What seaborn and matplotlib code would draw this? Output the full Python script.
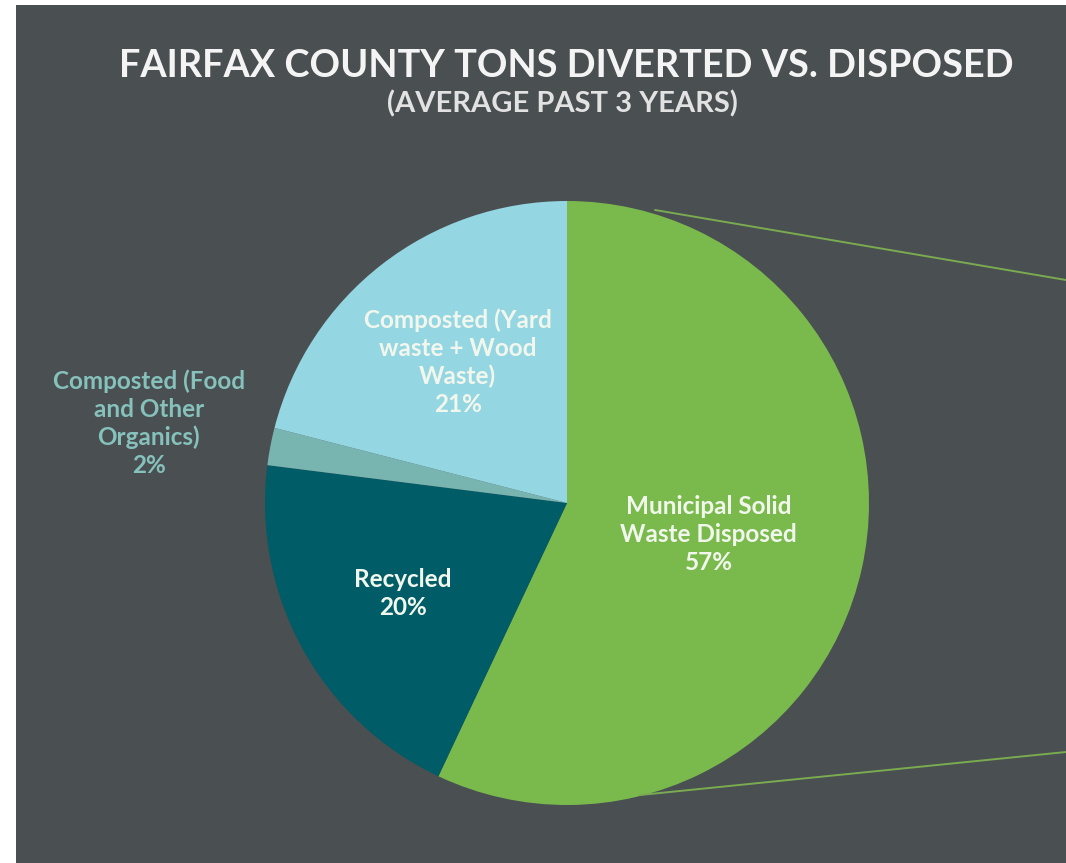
import numpy as np
import matplotlib
matplotlib.use("Agg")
import matplotlib.pyplot as plt
import seaborn as sns
from matplotlib.patches import Rectangle
from matplotlib.lines import Line2D

# data
categories = ["Municipal Solid\nWaste Disposed", "Recycled",
              "Composted (Food\nand Other\nOrganics)", "Composted (Yard\nwaste + Wood\nWaste)"]
shares = [57, 20, 2, 21]
slice_colors = ["#7aba4c", "#005c66", "#78b4b0", "#94d6e2"]
label_colors = ["#f2f7ee", "#f2f7ee", "#86c1bc", "#f2f7ee"]
label_radius = [0.48, 0.62, 1.41, 0.59]

BG = "#4a4f52"

sns.set_theme(style="dark")
plt.rcParams['font.family'] = ['Lato', 'DejaVu Sans']

W, H = 1066, 863
fig = plt.figure(figsize=(W / 100, H / 100), dpi=100, facecolor="white")
# dark slide panel (small white margin at left/top like the source)
fig.add_artist(Rectangle((16 / W, 0), 1 - 16 / W, 1 - 5 / H, transform=fig.transFigure,
                         facecolor=BG, edgecolor="none", zorder=0))

cx, cy, r = 567, 503, 302
ax = fig.add_axes([(cx - r) / W, (H - cy - r) / H, 2 * r / W, 2 * r / H])
ax.set_facecolor("none")

wedges, _ = ax.pie(shares, colors=slice_colors, startangle=90, counterclock=False,
                   radius=1, wedgeprops={"linewidth": 0})
ax.set_xlim(-1, 1); ax.set_ylim(-1, 1); ax.set_aspect("equal"); ax.axis("off")

for w, cat, val, col, rd in zip(wedges, categories, shares, label_colors, label_radius):
    ang = np.deg2rad((w.theta1 + w.theta2) / 2)
    ax.text(rd * np.cos(ang), rd * np.sin(ang), f"{cat}\n{val}%", ha="center", va="center",
            color=col, fontsize=17.5, fontweight="bold", linespacing=1.25, clip_on=False)

# connector lines toward the (cropped) breakdown on the right
for (x0, y0), (x1, y1) in [((655, 210), (1066, 280)), ((640, 795), (1066, 752))]:
    fig.add_artist(Line2D([x0 / W, x1 / W], [1 - y0 / H, 1 - y1 / H], transform=fig.transFigure,
                          color="#7aab50", linewidth=1.4, zorder=1))

fig.text(566 / W, 1 - 66 / H, "FAIRFAX COUNTY TONS DIVERTED VS. DISPOSED", ha="center", va="center",
         color="#f4f4f4", fontsize=27.3, fontweight="bold")
fig.text(562 / W, 1 - 104 / H, "(AVERAGE PAST 3 YEARS)", ha="center", va="center",
         color="#e2e2e2", fontsize=21, fontweight="bold")

fig.savefig("out.png", dpi=100, facecolor=fig.get_facecolor())
